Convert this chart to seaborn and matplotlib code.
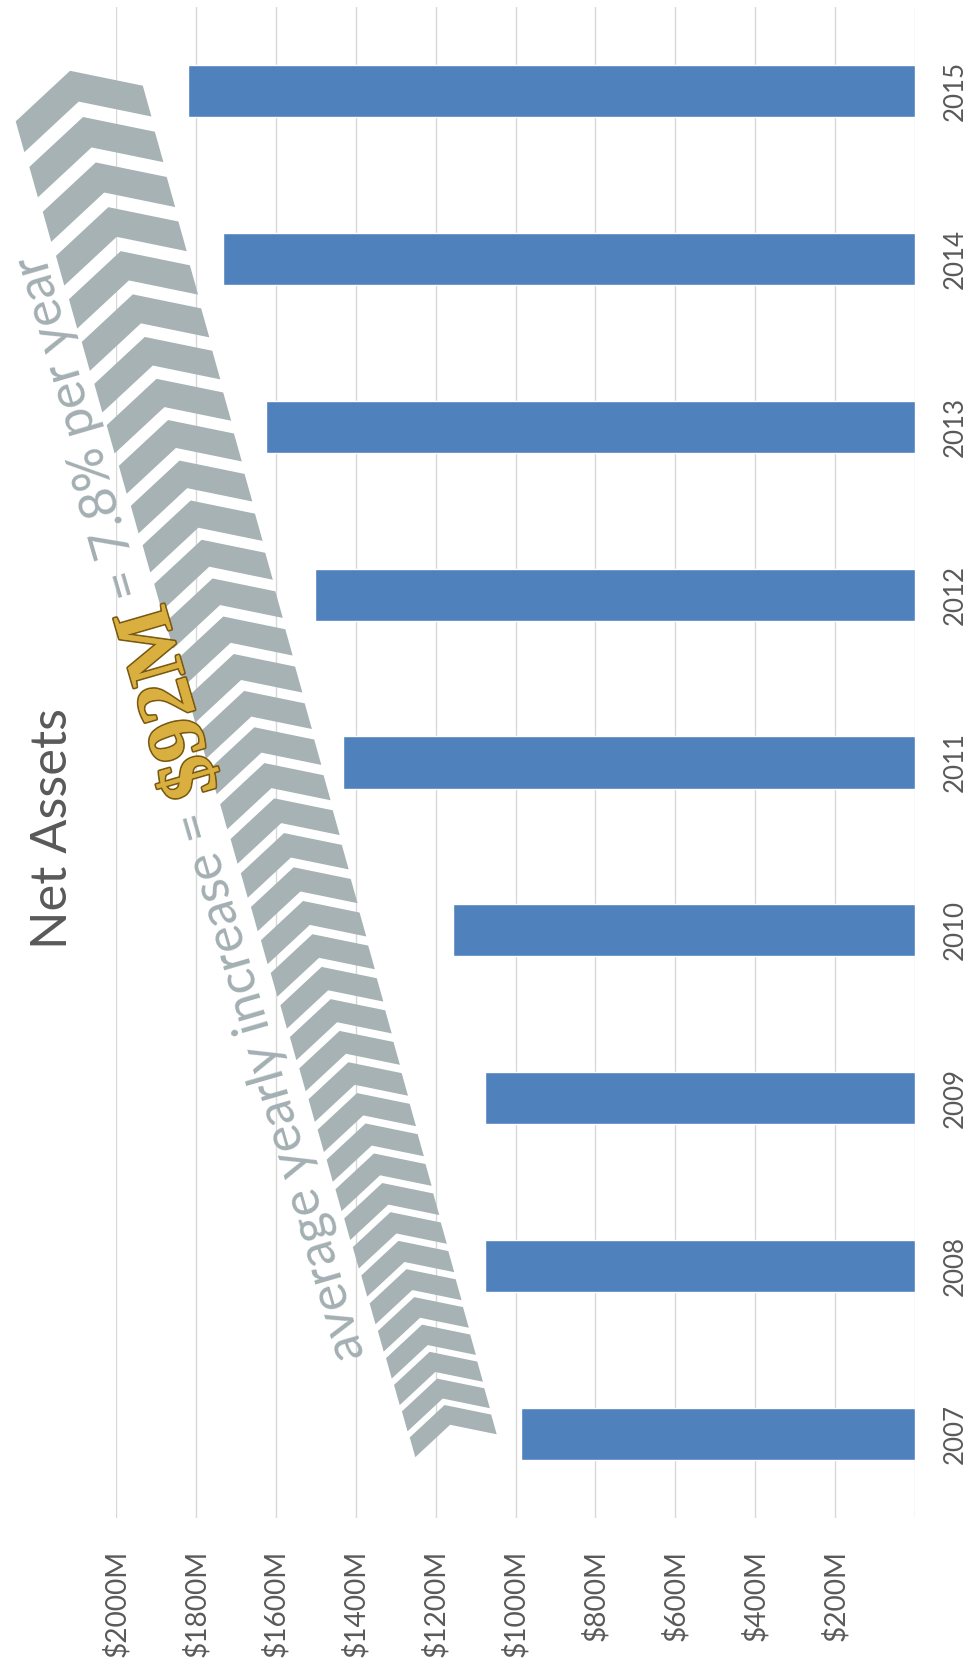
import numpy as np
import pandas as pd
import matplotlib
matplotlib.use("Agg")
import matplotlib.pyplot as plt
import matplotlib.patheffects as pe
from matplotlib.patches import Polygon
import seaborn as sns

# ---- data ($ millions) ----
years = ["2015", "2014", "2013", "2012", "2011", "2010", "2009", "2008", "2007"]
net_assets = [1820, 1732, 1625, 1502, 1432, 1157, 1076, 1076, 986]
value_ticks = [200, 400, 600, 800, 1000, 1200, 1400, 1600, 1800, 2000]
value_tick_labels = [f"${v}M" for v in value_ticks]
title_text = "Net Assets"
note_parts = ["average yearly increase =", "$92M", "= 7.8% per year"]

# growth arrow and its caption, as (value, bar row) anchors; row 0 is the top bar
arrow_tail = (1176, 7.84)
arrow_head = (2115, -0.12)
note_start = (1376, 7.53)
note_end = (2178, 0.95)

# ---- style ----
sns.set_style("white")
plt.rcParams["font.family"] = ["Lato", "DejaVu Sans"]
TEXT_GREY = "#595959"
BAR_BLUE = "#4F81BD"
ARROW_GREY = "#A6B2B4"
NOTE_GREY = "#A3AFB2"
GRID_GREY = "#D9D9D9"

W, H = 971, 1663
fig = plt.figure(figsize=(W / 100, H / 100), dpi=100)
ax = fig.add_axes([116 / W, (H - 1518) / H, 799 / W, 1511 / H])

df = pd.DataFrame({"year": years, "assets": net_assets})
sns.barplot(data=df, x="assets", y="year", order=years, orient="h",
            color=BAR_BLUE, saturation=1, width=0.31, ax=ax, zorder=3)

ax.set_xlim(2000, 0)
ax.set_ylim(len(years) - 0.5, -0.5)
ax.set_xticks([0] + value_ticks)
ax.set_xticklabels([""] + value_tick_labels)
ax.grid(axis="x", color=GRID_GREY, linewidth=1.0, zorder=0)
ax.grid(axis="y", visible=False)
ax.set_axisbelow(True)
for sp in ax.spines.values():
    sp.set_visible(False)
ax.set_xlabel("")
ax.set_ylabel("")
ax.yaxis.tick_right()

fig.canvas.draw()
renderer = fig.canvas.get_renderer()


def text_width(s, fs, **kw):
    t = fig.text(0, 0, s, fontsize=fs, **kw)
    w = t.get_window_extent(renderer).width
    t.remove()
    return w


def fit_size(s, target_px, base=20.0, **kw):
    return base * target_px / text_width(s, base, **kw)


tick_fs = fit_size("$2000M", 107)
year_fs = fit_size("2015", 60)
title_fs = fit_size(title_text, 241)

ax.tick_params(axis="x", length=0, pad=23, labelsize=tick_fs, labelcolor=TEXT_GREY,
               labelrotation=90)
ax.tick_params(axis="y", length=0, pad=20, labelsize=year_fs, labelcolor=TEXT_GREY,
               labelrotation=90)
for lab in ax.get_yticklabels():
    lab.set_verticalalignment("center")

fig.text(53 / W, 1 - 828 / H, title_text, rotation=90, ha="center", va="center",
         fontsize=title_fs, color=TEXT_GREY)

# ---- chevron arrow, built in display pixels from the data anchors ----
to_data = ax.transData.inverted()
S = ax.transData.transform(arrow_tail)
E = ax.transData.transform(arrow_head)
L = np.hypot(*(E - S))
u = (E - S) / L
v = np.array([u[1], -u[0]])
half_w, drop, thick, gap_len = 66.0, 34.0, 32.0, 16.0
end_scale = 0.64
d = 0.0
while d <= L + 3:
    s = 1.0 - (1.0 - end_scale) * d / L
    P = E - d * u
    pts = np.array([
        P + s * (-half_w * v - drop * u),
        P,
        P + s * (half_w * v - drop * u),
        P + s * (half_w * v - (drop + thick) * u),
        P - s * thick * u,
        P + s * (-half_w * v - (drop + thick) * u),
    ])
    ax.add_patch(Polygon(to_data.transform(pts), closed=True, facecolor=ARROW_GREY,
                         edgecolor="none", clip_on=False, zorder=2))
    d += thick * s + gap_len * s * s

# ---- caption along the arrow ----
T0 = ax.transData.transform(note_start)
T1 = ax.transData.transform(note_end)
span = np.hypot(*(T1 - T0))
direc = (T1 - T0) / span
angle = np.degrees(np.arctan2(direc[1], direc[0]))
down = np.array([np.sin(np.radians(angle)), -np.cos(np.radians(angle))])

gold_kw = dict(family="Liberation Serif", weight="bold")
grey_kw = dict()
gold_len = 195.0
gold_fs = fit_size(note_parts[1], gold_len, **gold_kw)
base = 20.0
space_px = text_width("a a", base, **grey_kw) - text_width("aa", base, **grey_kw)
w_grey = (text_width(note_parts[0], base, **grey_kw)
          + text_width(note_parts[2], base, **grey_kw) + 2 * space_px)
grey_fs = base * (span - gold_len) / w_grey

w1 = text_width(note_parts[0], grey_fs, **grey_kw)
w2 = text_width(note_parts[1], gold_fs, **gold_kw)
gap = space_px * grey_fs / base

p = T0.copy()
ax.text(*to_data.transform(p), note_parts[0], rotation=angle, rotation_mode="anchor",
        ha="left", va="baseline", fontsize=grey_fs, color=NOTE_GREY, clip_on=False,
        zorder=4, **grey_kw)
p = p + (w1 + gap) * direc
ax.text(*to_data.transform(p + 16 * down), note_parts[1], rotation=angle,
        rotation_mode="anchor", ha="left", va="baseline", fontsize=gold_fs,
        color="#D9AF40", clip_on=False, zorder=5,
        path_effects=[pe.withStroke(linewidth=2.5, foreground="#7A5A12"), pe.Normal()],
        **gold_kw)
p = p + (w2 + gap) * direc
ax.text(*to_data.transform(p), note_parts[2], rotation=angle, rotation_mode="anchor",
        ha="left", va="baseline", fontsize=grey_fs, color=NOTE_GREY, clip_on=False,
        zorder=4, **grey_kw)

fig.savefig("out.png", dpi=100, facecolor="white")
